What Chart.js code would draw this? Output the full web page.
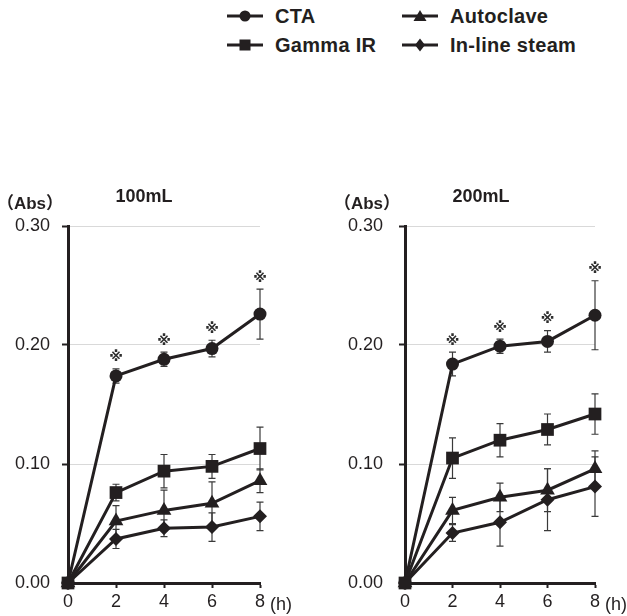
<!DOCTYPE html>
<html>
<head>
<meta charset="utf-8">
<script src="https://cdn.jsdelivr.net/npm/chart.js@4.4.1/dist/chart.umd.min.js"></script>
<style>
  html, body { margin: 0; padding: 0; background: #fff; }
  body { width: 627px; height: 616px; position: relative; overflow: hidden; font-family: "Liberation Sans", Arial, sans-serif; color: #231f20; }
  .panel { position: absolute; top: 170px; height: 446px; }
  #p100 { left: 0; width: 310px; }
  #p200 { left: 310px; width: 317px; }
  .leg { position: absolute; display: flex; align-items: center; font-weight: bold; font-size: 20px; white-space: nowrap; letter-spacing: 0.3px; }
  .leg svg { margin-right: 12px; }
</style>
</head>
<body>
<div id="legend"></div>
<div class="panel" id="p100"><canvas id="c100"></canvas></div>
<div class="panel" id="p200"><canvas id="c200"></canvas></div>
<script>
/* Absorbance vs time, 100 mL and 200 mL bags */
const hours = [0, 2, 4, 6, 8];
const seriesNames = ["CTA", "Gamma IR", "Autoclave", "In-line steam"];
const yTicks = [0, 0.1, 0.2, 0.3];

// 100 mL
const cta100 = [0, 0.174, 0.188, 0.197, 0.226];
const gamma100 = [0, 0.076, 0.094, 0.098, 0.113];
const auto100 = [0, 0.052, 0.061, 0.067, 0.086];
const steam100 = [0, 0.037, 0.046, 0.047, 0.056];
const ctaErr100 = [0, 0.006, 0.006, 0.007, 0.021];
const gammaErr100 = [0, 0.007, 0.014, 0.010, 0.018];
const autoErr100 = [0, 0.013, 0.017, 0.018, 0.010];
const steamErr100 = [0, 0.008, 0.007, 0.012, 0.012];
const sig100 = [false, true, true, true, true];

// 200 mL
const cta200 = [0, 0.184, 0.199, 0.203, 0.225];
const gamma200 = [0, 0.105, 0.120, 0.129, 0.142];
const auto200 = [0, 0.061, 0.072, 0.078, 0.096];
const steam200 = [0, 0.042, 0.051, 0.070, 0.081];
const ctaErr200 = [0, 0.010, 0.006, 0.009, 0.029];
const gammaErr200 = [0, 0.017, 0.014, 0.013, 0.017];
const autoErr200 = [0, 0.011, 0.012, 0.018, 0.015];
const steamErr200 = [0, 0.007, 0.020, 0.026, 0.025];
const sig200 = [false, true, true, true, true];

const INK = "#231f20";
const FONT = "'Liberation Sans', Arial, sans-serif";
const MARKERS = [
  { style: "circle", radius: 6.5 },
  { style: "rect", radius: 9 },
  { style: "triangle", radius: 8.5 },
  { style: "rectRot", radius: 7 },
];

/* ---------- legend (2 x 2, column-major) ---------- */
(function buildLegend() {
  const pos = [[227, 16], [227, 45], [402, 16], [402, 45]];
  const icons = [
    '<circle cx="18" cy="8" r="5.5"/>',
    '<rect x="12.5" y="2.5" width="11" height="11"/>',
    '<polygon points="18,2 24.5,13 11.5,13"/>',
    '<polygon points="18,1.5 23,8 18,14.5 13,8"/>',
  ];
  const box = document.getElementById("legend");
  seriesNames.forEach((name, i) => {
    const el = document.createElement("div");
    el.className = "leg";
    el.style.left = pos[i][0] + "px";
    el.style.top = (pos[i][1] - 12) + "px";
    el.style.height = "24px";
    el.innerHTML = `<svg width="36" height="16" viewBox="0 0 36 16" fill="${INK}">
      <line x1="0" y1="8" x2="36" y2="8" stroke="${INK}" stroke-width="3"/>${icons[i]}</svg><span>${name}</span>`;
    box.appendChild(el);
  });
})();

/* ---------- plugin: error bars, significance marks, panel text ---------- */
const decor = {
  id: "decor",
  beforeDatasetsDraw(chart) {
    const { ctx, scales: { x, y } } = chart;
    ctx.save();
    ctx.strokeStyle = "#3a3a3a";
    ctx.lineWidth = 1.2;
    chart.data.datasets.forEach((ds) => {
      ds.data.forEach((v, i) => {
        const e = ds.errors[i];
        if (!e) return;
        const px = x.getPixelForValue(hours[i]);
        const top = y.getPixelForValue(v + e);
        const bot = y.getPixelForValue(v - e);
        ctx.beginPath();
        ctx.moveTo(px, top); ctx.lineTo(px, bot);
        ctx.moveTo(px - 3.5, top); ctx.lineTo(px + 3.5, top);
        ctx.moveTo(px - 3.5, bot); ctx.lineTo(px + 3.5, bot);
        ctx.stroke();
      });
    });
    ctx.restore();
  },
  afterDraw(chart, args, opts) {
    const { ctx, chartArea, scales: { x, y } } = chart;
    ctx.save();
    ctx.textBaseline = "middle";
    ctx.textAlign = "center";
    // significance marks above CTA
    const cta = chart.data.datasets[0];
    ctx.font = "bold 14px 'DejaVu Sans', 'Noto Sans CJK JP'";
    ctx.fillStyle = "#2e2e2e";
    opts.sig.forEach((s, i) => {
      if (!s) return;
      const py = y.getPixelForValue(cta.data[i] + cta.errors[i]) - 11;
      ctx.fillText("※", x.getPixelForValue(hours[i]), py);
    });
    ctx.fillStyle = INK;
    ctx.font = `bold 18px ${FONT}`;
    ctx.fillText(opts.title, chartArea.left + 76, chartArea.top - 29);
    ctx.font = `bold 17px ${FONT}, 'Noto Sans CJK JP'`;
    ctx.fillText("（Abs）", chartArea.left - 38, chartArea.top - 22);
    ctx.font = `18px ${FONT}`;
    ctx.textAlign = "left";
    ctx.fillText("(h)", chartArea.right + 10, chartArea.bottom + 22);
    ctx.restore();
  },
};

function makePanel(canvasId, title, values, errors, sig, yWidth, padRight, tickPad) {
  const datasets = values.map((data, i) => ({
    label: seriesNames[i],
    data,
    errors: errors[i],
    borderColor: INK,
    backgroundColor: INK,
    borderWidth: 3,
    pointStyle: MARKERS[i].style,
    pointRadius: MARKERS[i].radius,
    pointHoverRadius: MARKERS[i].radius,
    pointBorderWidth: 0,
    pointBackgroundColor: INK,
    tension: 0,
    clip: false,
    order: i === 1 ? 0 : 1,
  }));

  return new Chart(document.getElementById(canvasId), {
    type: "line",
    data: { labels: hours, datasets },
    options: {
      responsive: true,
      maintainAspectRatio: false,
      animation: false,
      layout: { autoPadding: false, padding: { top: 56, right: padRight, left: 0, bottom: 0 } },
      plugins: {
        legend: { display: false },
        tooltip: { enabled: false },
        decor: { title, sig },
      },
      scales: {
        x: {
          type: "linear",
          min: 0,
          max: 8,
          afterBuildTicks: (s) => { s.ticks = hours.map((h) => ({ value: h })); },
          afterFit: (s) => { s.height = 33; },
          border: { color: INK, width: 3 },
          grid: { drawOnChartArea: false, drawTicks: true, tickLength: 5, tickColor: INK, tickWidth: 2 },
          ticks: { color: INK, font: { family: FONT, size: 18 }, padding: 3, maxRotation: 0 },
        },
        y: {
          min: 0,
          max: 0.3,
          afterBuildTicks: (s) => { s.ticks = yTicks.map((v) => ({ value: v })); },
          afterFit: (s) => { s.width = yWidth; },
          border: { color: INK, width: 3 },
          grid: { color: "#d9d9d9", lineWidth: 1, tickLength: 6, tickColor: INK, tickWidth: 2 },
          ticks: {
            color: INK,
            font: { family: FONT, size: 18 },
            padding: tickPad,
            callback: (v) => Number(v).toFixed(2),
          },
        },
      },
    },
    plugins: [decor],
  });
}

makePanel("c100", "100mL",
  [cta100, gamma100, auto100, steam100],
  [ctaErr100, gammaErr100, autoErr100, steamErr100],
  sig100, 68, 50, 12);

makePanel("c200", "200mL",
  [cta200, gamma200, auto200, steam200],
  [ctaErr200, gammaErr200, autoErr200, steamErr200],
  sig200, 95, 32, 16);
</script>
</body>
</html>
